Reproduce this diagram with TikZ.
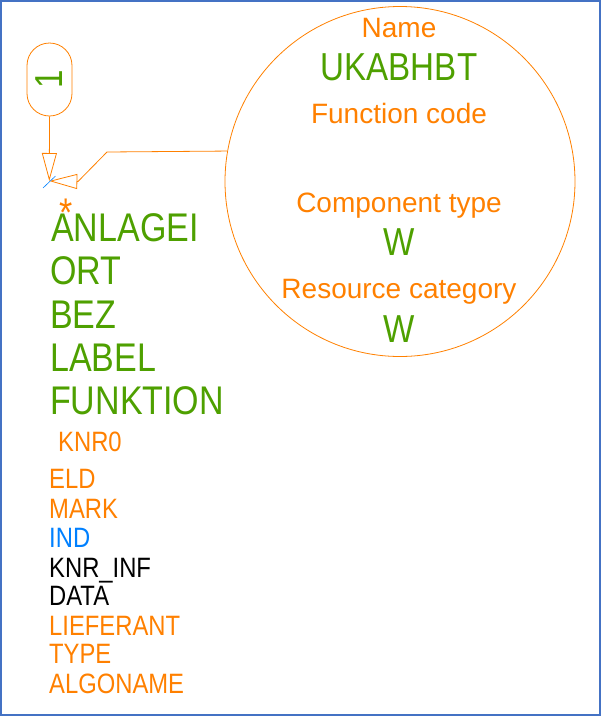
\documentclass[tikz,border=0pt]{standalone}
\usepackage{fontspec}
\setmainfont{Liberation Sans}
\newfontfamily\capsfont[FakeStretch=0.85]{Liberation Sans}
\usetikzlibrary{arrows.meta,shapes.misc}

\definecolor{cadorange}{RGB}{255,128,0}
\definecolor{cadgreen}{RGB}{78,160,0}
\definecolor{cadblue}{RGB}{0,128,255}
\definecolor{frameblue}{RGB}{68,114,196}

\tikzset{
    openhead/.tip={Triangle[open, length=28pt, width=15pt]},
    wire/.style={cadorange, line width=0.8pt},
    bigattr/.style={anchor=base west, inner sep=0, text=cadgreen, font=\capsfont\fontsize{40}{48}\selectfont},
    smallattr/.style={anchor=base west, inner sep=0, text=cadorange, font=\capsfont\fontsize{28}{34}\selectfont},
    circtext/.style={anchor=base, inner sep=0, text=cadorange, font=\fontsize{28}{34}\selectfont},
    circvalue/.style={anchor=base, inner sep=0, text=cadgreen, font=\capsfont\fontsize{39}{47}\selectfont}
}

\begin{document}
\begin{tikzpicture}[x=1pt, y=-1pt]
        \useasboundingbox (0,0) rectangle (601,716);
        \draw[frameblue, line width=2pt] (1,1) rectangle (600,715);

        \coordinate (tip) at (49.3,181);
        \coordinate (bend1) at (107,152);
        \coordinate (bend2) at (78,181.5);
        \coordinate (T1) at (43,188);
        \coordinate (T2) at (55.5,176);

        % Sheet marker.
        \node[draw=cadorange, line width=0.8pt, rounded rectangle, rotate=90, minimum width=73pt, minimum height=45pt, inner sep=0, text=cadgreen, font=\capsfont\fontsize{39}{47}\selectfont] (sheet) at (49.5,79.5) {1};
        \draw[wire, -openhead] (sheet.west) -- (tip);

        % Bubble.
        \node[draw=cadorange, line width=0.8pt, circle, minimum size=350pt, inner sep=0] (bubble) at (400,181.5) {};
        \draw[wire, -openhead] (bubble.170.5) -- (bend1) -- (bend2) -- (tip);
        \draw[cadblue, line width=0.6pt] (T1) -- (T2);

        \node[circtext] (name) at (399,37) {Name};
        \node[circvalue] (namev) at (399,80) {UKABHBT};
        \node[circtext] (func) at (399,123) {Function code};
        \node[circtext] (comp) at (399,212) {Component type};
        \node[circvalue] (compv) at (399,255) {W};
        \node[circtext] (res) at (399,298) {Resource category};
        \node[circvalue] (resv) at (399,342) {W};

        % Attributes.
        \node[smallattr, anchor=center, font=\capsfont\fontsize{40}{44}\selectfont] (star) at (66,203) {\raisebox{-23pt}[5pt][5pt]{*}};
        \node[bigattr] (anlagei) at (51,241) {ANLAGEI};
        \node[bigattr] (ort) at (50,284) {ORT};
        \node[bigattr] (bez) at (50,328) {BEZ};
        \node[bigattr] (label) at (50,371) {LABEL};
        \node[bigattr] (funktion) at (50,414) {FUNKTION};

        \node[smallattr] (knr) at (58,451) {KNR0};
        \node[smallattr] (eld) at (49,488) {ELD};
        \node[smallattr] (mark) at (49,518) {MARK};
        \node[smallattr, text=cadblue] (ind) at (49,547) {IND};
        \node[smallattr, text=black] (knrinf) at (49,577) {KNR\_INF};
        \node[smallattr, text=black] (data) at (49,605) {DATA};
        \node[smallattr] (lieferant) at (49,635) {LIEFERANT};
        \node[smallattr] (type) at (49,663) {TYPE};
        \node[smallattr] (algoname) at (49,693) {ALGONAME};

    \end{tikzpicture}
\end{document}
